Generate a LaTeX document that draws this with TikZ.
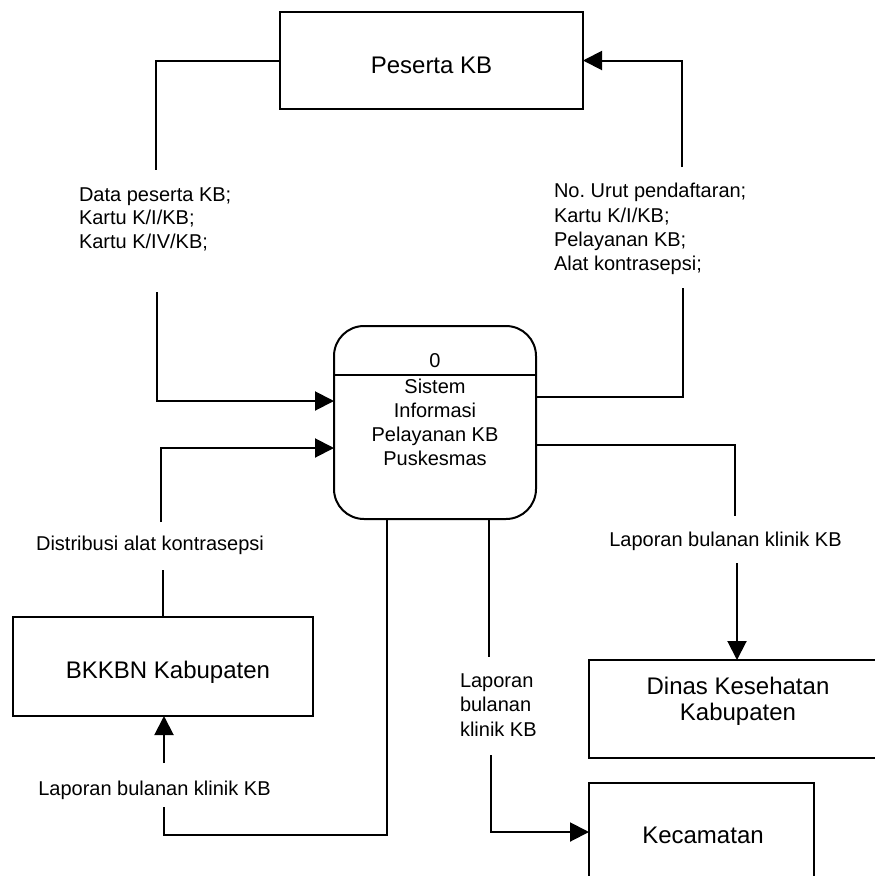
\documentclass[tikz,border=0pt]{standalone}
\usepackage{fontspec}
\setmainfont{Liberation Sans}
\usetikzlibrary{arrows.meta}
\frenchspacing
\begin{document}
\begin{tikzpicture}[x=1pt,y=-1pt,
  line width=2pt,
  entity/.style={draw, rectangle, inner sep=0pt, outer sep=0pt},
  proc/.style={draw, rectangle, rounded corners=30pt, inner sep=0pt, outer sep=0pt},
  flow/.style={-{Triangle[length=19pt,width=19pt]}},
  lbl/.style={inner sep=0pt, font=\fontsize{20}{24}\selectfont},
  big/.style={inner sep=0pt, font=\fontsize{24}{26}\selectfont},
]
\useasboundingbox (0,0) rectangle (875,876);
\clip (0,0) rectangle (875,876);

% external entities
\node[entity, minimum width=303pt, minimum height=97pt] (peserta) at (431.5,60.5) {};
\node[big, anchor=base] (pesertaT) at (431.5,73) {Peserta KB};

\node[entity, minimum width=300pt, minimum height=99pt] (bkkbn) at (163,666.5) {};
\node[big, anchor=base] (bkkbnT) at (168,678) {BKKBN Kabupaten};

\node[entity, minimum width=311pt, minimum height=98pt] (dinas) at (744.5,709) {};
\node[big, anchor=north, align=center, font=\fontsize{24}{26}\selectfont] (dinasT) at (738,675.8) {Dinas Kesehatan\\Kabupaten};

\node[entity, minimum width=225pt, minimum height=117pt] (kec) at (701.5,841.5) {};
\node[big, anchor=base] (kecT) at (703,843) {Kecamatan};

% process 0
\node[proc, minimum width=202pt, minimum height=193pt] (proc) at (435,422.5) {};
\coordinate (divy) at (435,375);
\draw (proc.west |- divy) -- (proc.east |- divy);
\node[lbl, anchor=base] (procN) at (435,367) {0};
\node[lbl, anchor=north, align=center] (procT) at (435,378.2) {Sistem\\Informasi\\Pelayanan KB\\Puskesmas};

% Peserta KB -> process
\coordinate (a1) at (156,170);
\coordinate (a2) at (157,292);
\coordinate (a3) at (157,401);
\draw (peserta.west) -| (a1);
\draw[flow] (a2) -- (a3) -- (a3 -| proc.west);
\node[lbl, anchor=north west, align=left, font=\fontsize{20}{23.5}\selectfont] (dataL) at (78,186.7) {Data peserta KB;\\Kartu K/I/KB;\\Kartu K/IV/KB;};

% process -> Peserta KB
\coordinate (b1) at (683,397);
\coordinate (b2) at (683,288);
\coordinate (b3) at (682,167);
\draw (b1 -| proc.east) -- (b1) -- (b2);
\draw[flow] (b3) |- (peserta.east);
\node[lbl, anchor=north west, align=left, font=\fontsize{20}{24.3}\selectfont] (noL) at (553,182.3) {No. Urut pendaftaran;\\Kartu K/I/KB;\\Pelayanan KB;\\Alat kontrasepsi;};

% BKKBN -> process
\coordinate (c1) at (163,570);
\coordinate (c2) at (161,522);
\coordinate (c3) at (161,448);
\draw (bkkbn.north) -- (c1);
\draw[flow] (c2) -- (c3) -- (c3 -| proc.west);
\node[lbl, anchor=base] (distL) at (150,550) {Distribusi alat kontrasepsi};

% process -> Dinas Kesehatan
\coordinate (d1) at (735,445);
\coordinate (d2) at (735,516);
\coordinate (d3) at (737,563);
\draw (d1 -| proc.east) -- (d1) -- (d2);
\draw[flow] (d3) -- (d3 |- dinas.north);
\node[lbl, anchor=base] (lapD) at (725.5,546) {Laporan bulanan klinik KB};

% process -> BKKBN
\coordinate (e1) at (387,835);
\coordinate (e2) at (164,807);
\coordinate (e3) at (164,763);
\draw (proc.south -| e1) -- (e1) -| (e2);
\draw[flow] (e3) -- (e3 |- bkkbn.south);
\node[lbl, anchor=base] (lapB) at (154.5,795) {Laporan bulanan klinik KB};

% process -> Kecamatan
\coordinate (f1) at (489,657);
\coordinate (f2) at (491,755);
\coordinate (f3) at (491,832);
\draw (proc.south -| f1) -- (f1);
\draw[flow] (f2) -- (f3) -- (f3 -| kec.west);
\node[lbl, anchor=north west, align=left, font=\fontsize{20}{24.5}\selectfont] (lapK) at (459,672.7) {Laporan\\bulanan\\klinik KB};
\end{tikzpicture}
\end{document}
